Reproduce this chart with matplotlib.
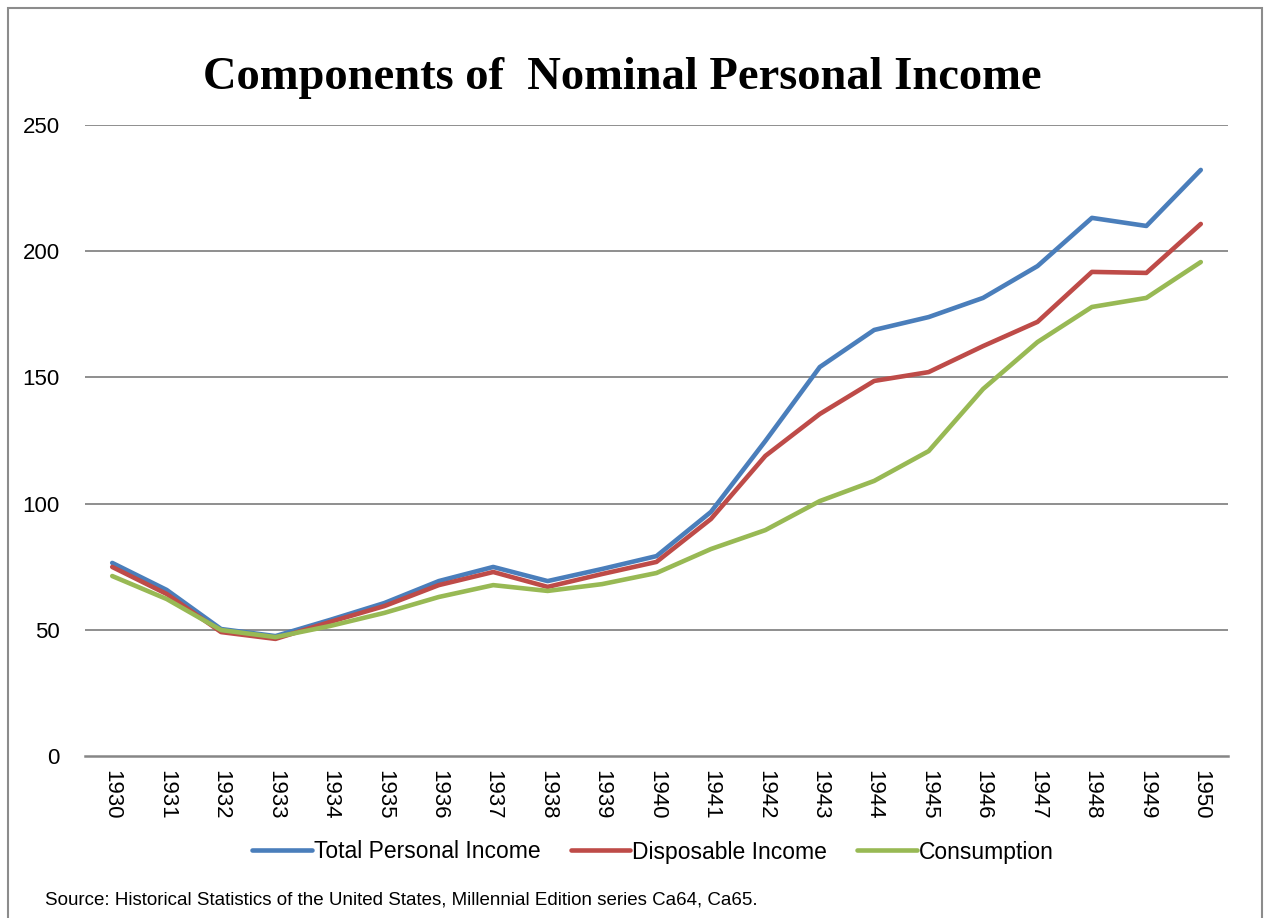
import matplotlib.pyplot as plt
from matplotlib.patches import Rectangle

# data
years = [str(y) for y in range(1930, 1951)]
total_income = [76.5, 65.8, 50.3, 47.5, 53.9, 60.6, 69.3, 74.9, 69.3, 74.1, 79.2,
                96.7, 124.8, 154.1, 168.8, 173.9, 181.5, 194.1, 213.2, 210.0, 232.2]
disposable = [74.9, 64.2, 49.1, 46.4, 53.1, 59.4, 67.7, 72.9, 67.0, 72.1, 76.9,
              93.9, 118.9, 135.5, 148.6, 152.1, 162.4, 172.0, 191.8, 191.4, 210.8]
consumption = [71.3, 62.2, 49.9, 47.1, 51.5, 56.7, 63.0, 67.7, 65.4, 68.1, 72.5,
               82.0, 89.5, 101.0, 109.0, 120.8, 145.4, 164.0, 177.9, 181.5, 195.7]
yticks = [0, 50, 100, 150, 200, 250]

fig = plt.figure(figsize=(12.71, 9.18), dpi=100)
ax = fig.add_axes([85/1271, 1-756/918, (1228-85)/1271, (756-125)/918])

x = range(len(years))
ax.plot(x, total_income, color='#4a7ebb', lw=3.3, label='Total Personal Income', solid_capstyle='round')
ax.plot(x, disposable, color='#be4b48', lw=3.3, label='Disposable Income', solid_capstyle='round')
ax.plot(x, consumption, color='#98b954', lw=3.3, label='Consumption', solid_capstyle='round')

ax.set_xlim(-0.5, len(years) - 0.5)
ax.set_ylim(0, 250)
ax.set_yticks(yticks)
ax.set_yticklabels([str(v) for v in yticks], fontsize=16, family='Liberation Sans')
ax.set_xticks(list(x))
ax.set_xticklabels(years, rotation=-90, fontsize=16, family='Liberation Sans')
ax.tick_params(length=0, pad=10)
ax.tick_params(axis='y', pad=18)
for v in yticks[1:]:
    ax.axhline(v, color='#868686', lw=1.3, zorder=0)
for s in ['top', 'right', 'left']:
    ax.spines[s].set_visible(False)
ax.spines['bottom'].set_color('#868686')
ax.spines['bottom'].set_linewidth(1.8)

fig.text(0.49, 1-78/918, 'Components of  Nominal Personal Income', ha='center', va='center',
         fontsize=33.5, fontweight='bold', family='Liberation Serif')

fig.legend(loc='center', bbox_to_anchor=(653/1271, 1-852/918), ncol=3, frameon=False,
           prop={'family': 'Liberation Sans', 'size': 16.5}, handlelength=2.6,
           handletextpad=0.1, columnspacing=1.3)

fig.text(45/1271, 1-900/918, 'Source: Historical Statistics of the United States, Millennial Edition series Ca64, Ca65.',
         ha='left', va='center', fontsize=13.5, family='Liberation Sans')

fig.patches.append(Rectangle((8/1271, -0.05), (1262-8)/1271, 1.05-8/918, transform=fig.transFigure,
                             fill=False, edgecolor='#8c8c8c', lw=1.5))

fig.savefig('out.png', dpi=100)
